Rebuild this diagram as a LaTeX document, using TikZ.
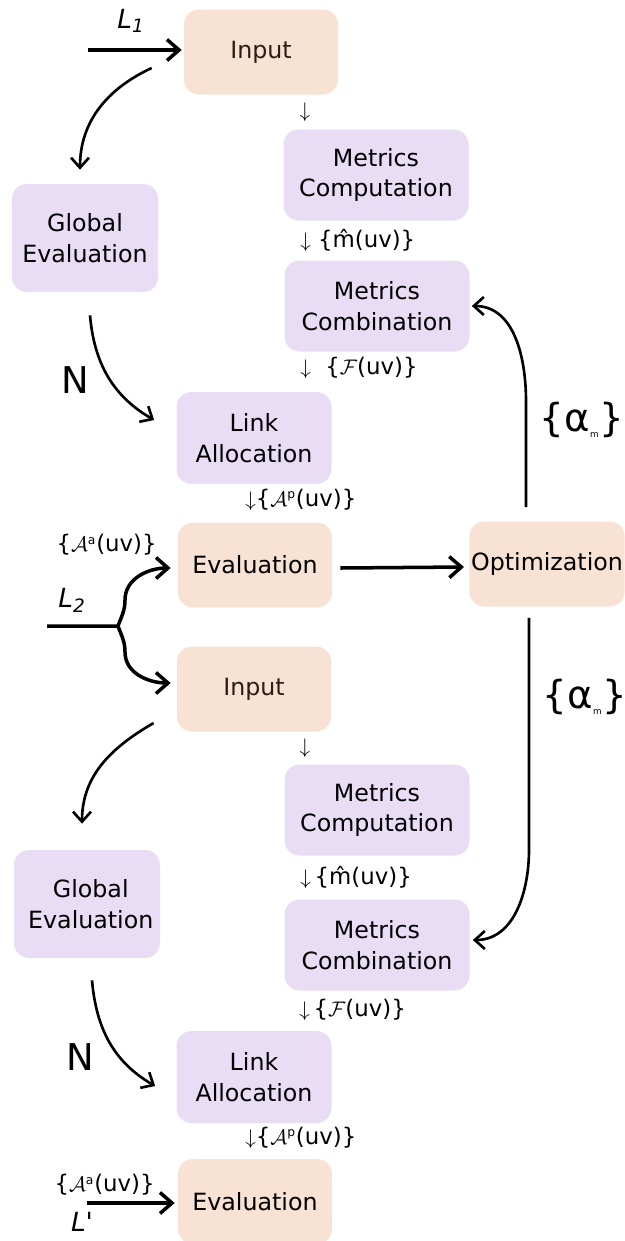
\documentclass[tikz,border=0pt]{standalone}
\usepackage{fontspec}
\setmainfont{DejaVu Sans}
\usetikzlibrary{arrows.meta}
\definecolor{peach}{HTML}{F8E2D4}
\definecolor{lilac}{HTML}{E9DDF5}
\definecolor{inktext}{HTML}{2E1C12}
\newcommand{\supsm}[1]{\textsuperscript{\fontsize{7}{7}\selectfont #1}}

\begin{document}
\begin{tikzpicture}[
	io/.style={fill=peach, rounded corners=0.3cm, minimum width=3.08cm, minimum height=1.7cm, inner sep=1pt, align=center, font=\fontsize{13.5}{17.5}\selectfont},
	proc/.style={fill=lilac, rounded corners=0.3cm, minimum width=3.7cm, minimum height=1.82cm, inner sep=1pt, align=center, font=\fontsize{13.5}{17.5}\selectfont},
	flow/.style={line width=2pt, -{Straight Barb[length=2.4mm,width=4.2mm]}},
	bendflow/.style={line width=1.5pt, -{Straight Barb[length=2mm,width=3.6mm]}},
	lbl/.style={font=\fontsize{13}{15}\selectfont, inner sep=0pt},
	lname/.style={font=\fontsize{15}{17}\selectfont\itshape, inner sep=0pt},
	big/.style={font=\fontsize{21}{24}\selectfont, inner sep=0pt},
	alf/.style={font=\fontsize{22}{26}\selectfont, inner sep=0pt}]
	\useasboundingbox (0,0) rectangle (12.5,-24.82);
	% upper run
	\node[io, text=inktext] (in1) at (5.22,-1.04) {Input};
	\node[proc] (mc1) at (7.52,-3.5) {Metrics\\Computation};
	\node[proc, minimum width=2.92cm, minimum height=2.16cm] (ge1) at (1.7,-4.76) {Global\\Evaluation};
	\node[proc] (mb1) at (7.54,-6.12) {Metrics\\Combination};
	\node[proc, minimum width=3.1cm, minimum height=1.84cm] (la1) at (5.08,-8.76) {Link\\Allocation};
	\node[io] (ev1) at (5.1,-11.3) {Evaluation};
	\node[io] (opt) at (10.94,-11.28) {Optimization};
	% lower run
	\node[io, text=inktext] (in2) at (5.08,-13.78) {Input};
	\node[proc] (mc2) at (7.54,-16.2) {Metrics\\Computation};
	\node[proc, minimum width=2.92cm, minimum height=2.16cm] (ge2) at (1.74,-18.08) {\ Global\\\ Evaluation};
	\node[proc] (mb2) at (7.54,-18.9) {Metrics\\Combination};
	\node[proc, minimum width=3.1cm, minimum height=1.84cm] (la2) at (5.08,-21.54) {Link\\Allocation};
	\node[io] (ev2) at (5.1,-24.03) {Evaluation};

	\node[lbl] (d1) at (6.1,-2.24) {$\downarrow$};
	\node[lbl, anchor=west] (m1) at (6.0,-4.8) {$\downarrow$ \{\^{m}(uv)\}};
	\node[lbl, anchor=west] (f1) at (6.0,-7.36) {$\downarrow$ \ \{$\mathcal{F}$(uv)\}};
	\node[lbl, anchor=west] (p1) at (4.9,-10.0) {$\downarrow$\{$\mathcal{A}$\supsm{p}(uv)\}};
	\node[lbl, anchor=east] (a1) at (3.14,-10.9) {\{$\mathcal{A}$\supsm{a}(uv)\}};
	\node[lbl] (d2) at (6.1,-14.96) {$\downarrow$};
	\node[lbl, anchor=west] (m2) at (6.0,-17.54) {$\downarrow$\,\{\^{m}(uv)\}};
	\node[lbl, anchor=west] (f2) at (5.98,-20.2) {$\downarrow$\,\{$\mathcal{F}$(uv)\}};
	\node[lbl, anchor=west] (p2) at (4.9,-22.76) {$\downarrow$\{$\mathcal{A}$\supsm{p}(uv)\}};
	\node[lbl, anchor=east] (a2) at (3.1,-23.7) {\{$\mathcal{A}$\supsm{a}(uv)\}};

	\node[lname] (l1lab) at (2.62,-0.42) {L\textsubscript{1}};
	\node[lname] (l2lab) at (1.44,-12.0) {L\textsubscript{2}};
	\node[lname] (lplab) at (1.64,-24.44) {L\textquotesingle};
	\node[big] (n1) at (1.5,-7.6) {N};
	\node[big] (n2) at (1.6,-21.14) {N};
	\node[alf] (al1) at (11.64,-8.4) {\{α\textsubscript{\tiny m}\}};
	\node[alf] (al2) at (11.7,-13.94) {\{α\textsubscript{\tiny m}\}};

	\coordinate (l1) at (1.76,-1.0);
	\coordinate (l2) at (0.94,-12.52);
	\coordinate (fork) at (2.36,-12.52);
	\coordinate (lp) at (1.74,-24.06);

	\draw[flow, shorten >=0.04cm] (l1) -- (l1 -| in1.west);
	\draw[bendflow] ([shift={(-0.64,-0.32)}]in1.west) to[out=205,in=90] ([shift={(-0.1,0.28)}]ge1.north);
	\draw[bendflow] ([shift={(0.1,-0.46)}]ge1.south) to[out=-85,in=150] ([shift={(-0.44,0.36)}]la1.west);
	\draw[flow] (l2) -- (fork) to[out=70,in=-90] ([shift={(0.14,0.52)}]fork) to[out=90,in=180] ([shift={(-0.14,-0.06)}]ev1.west);
	\draw[flow] (fork) to[out=-70,in=90] ([shift={(0.14,-0.52)}]fork) to[out=-90,in=180] ([shift={(-0.12,0.12)}]in2.west);
	\draw[flow] ([shift={(0.16,-0.06)}]ev1.east) -- ([shift={(-0.1,-0.06)}]opt.west);
	\draw[bendflow] ([shift={(-0.42,0.28)}]opt.north) -- ([shift={(-0.42,2.4)}]opt.north) to[out=90,in=0] ([xshift=0.04cm]mb1.east);
	\draw[bendflow] ([shift={(-0.36,-0.22)}]opt.south) -- ([shift={(-0.36,-4.86)}]opt.south) to[out=-90,in=0] ([shift={(0.06,0.1)}]mb2.east);
	\draw[bendflow] ([shift={(-0.46,-0.68)}]in2.west) to[out=210,in=90] ([shift={(-0.1,0.52)}]ge2.north);
	\draw[bendflow] ([shift={(0.1,-0.44)}]ge2.south) to[out=-85,in=150] ([shift={(-0.42,-0.18)}]la2.west);
	\draw[flow, shorten >=0.06cm] (lp) -- (lp -| ev2.west);
\end{tikzpicture}
\end{document}
